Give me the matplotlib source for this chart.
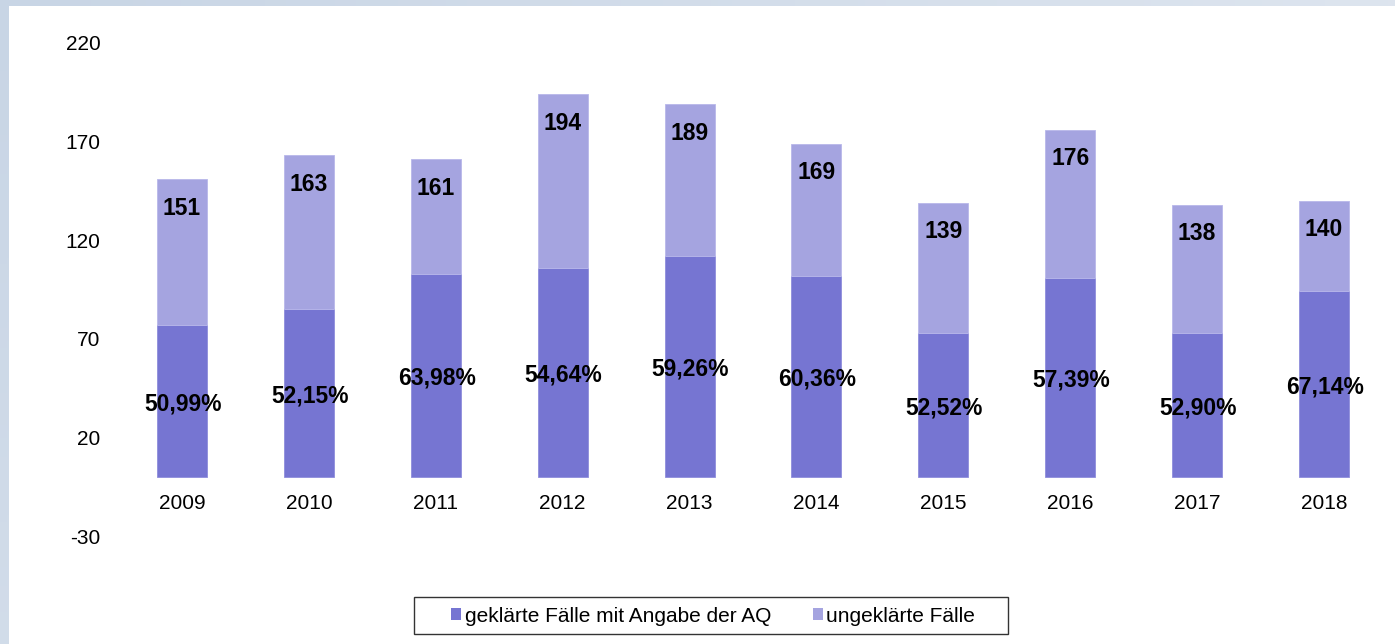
import numpy as np
import matplotlib
matplotlib.use("Agg")
import matplotlib.pyplot as plt
from matplotlib.patches import Patch, Rectangle

plt.rcParams['font.family'] = ['Liberation Sans', 'DejaVu Sans']

years = ["2009", "2010", "2011", "2012", "2013", "2014", "2015", "2016", "2017", "2018"]
solved = [77, 85, 103, 106, 112, 102, 73, 101, 73, 94]
unsolved = [74, 78, 58, 88, 77, 67, 66, 75, 65, 46]
totals = [151, 163, 161, 194, 189, 169, 139, 176, 138, 140]
pct_labels = ["50,99%", "52,15%", "63,98%", "54,64%", "59,26%",
              "60,36%", "52,52%", "57,39%", "52,90%", "67,14%"]
series_names = ["geklärte Fälle mit Angabe der AQ", "ungeklärte Fälle"]
yticks = [-30, 20, 70, 120, 170, 220]

c_solved = "#7675D2"
c_unsolved = "#A5A4E0"

W, H = 1395, 644
fig = plt.figure(figsize=(W / 100, H / 100), dpi=100)

# background frame (light blue gradient strips on top and left)
bg = fig.add_axes([0, 0, 1, 1], zorder=-10)
bg.set_axis_off()
gx = np.linspace(0, 1, 200)[None, :]
gy = np.linspace(0, 1, 100)[:, None]
c0 = np.array([0xC8, 0xD5, 0xE5]) / 255
c1 = np.array([0xE4, 0xEA, 0xF2]) / 255
t = np.clip(0.75 * gx + 0.35 * gy, 0, 1)[..., None]
img = c0 * (1 - t) + c1 * t
bg.imshow(img, extent=[0, 1, 0, 1], aspect='auto', origin='upper')
bg.add_patch(Rectangle((9 / W, 0), 1, 1 - 6 / H, facecolor='white', edgecolor='none',
                       transform=bg.transAxes))
bg.set_xlim(0, 1)
bg.set_ylim(0, 1)

left = 118.5 / W
right = 1387.5 / W
top = 1 - 43 / H
bottom = 1 - 536 / H
ax = fig.add_axes([left, bottom, right - left, top - bottom])
ax.set_facecolor('none')

x = np.arange(len(years))
bw = 0.394
ax.bar(x, solved, width=bw, color=c_solved, edgecolor='#8E8DDC', linewidth=0.6, zorder=2)
ax.bar(x, unsolved, width=bw, bottom=solved, color=c_unsolved, edgecolor='#B8B7EA',
       linewidth=0.6, zorder=2)

for xi, s, tot, pl in zip(x, solved, totals, pct_labels):
    ax.annotate(pl, (xi, s / 2), xytext=(1, -3), textcoords='offset pixels',
                ha='center', va='center', fontsize=16.5, fontweight='bold',
                color='black', zorder=3)
    ax.annotate(str(tot), (xi, tot), xytext=(0, -29), textcoords='offset pixels',
                ha='center', va='center', fontsize=16.5, fontweight='bold', color='black',
                zorder=3)

ax.set_xlim(-0.5, len(years) - 0.5)
ax.set_ylim(-30, 220)
ax.set_yticks(yticks)
ax.set_yticklabels([str(v) for v in yticks])
ax.set_xticks(x)
ax.set_xticklabels(years)
for s in ['top', 'right', 'left']:
    ax.spines[s].set_visible(False)
ax.spines['bottom'].set_position(('data', 0))
ax.spines['bottom'].set_visible(False)
ax.tick_params(axis='y', length=0, pad=13, labelsize=15, colors='black')
ax.tick_params(axis='x', length=0, pad=12, labelsize=15, colors='black')

# legend
handles = [Patch(facecolor=c_solved, edgecolor='none'),
           Patch(facecolor=c_unsolved, edgecolor='none')]
fig.legend(handles, series_names, loc='center', bbox_to_anchor=(713 / W, 1 - 616 / H),
           ncol=2, frameon=False, fontsize=15, handlelength=0.5, handleheight=0.5,
           handletextpad=0.15, columnspacing=2.0)
fig.add_artist(Rectangle((414 / W, 1 - 634 / H), 594 / W, 37 / H, facecolor='none',
                         edgecolor='#333333', linewidth=1.0, transform=fig.transFigure))

fig.savefig("out.png", dpi=100)
